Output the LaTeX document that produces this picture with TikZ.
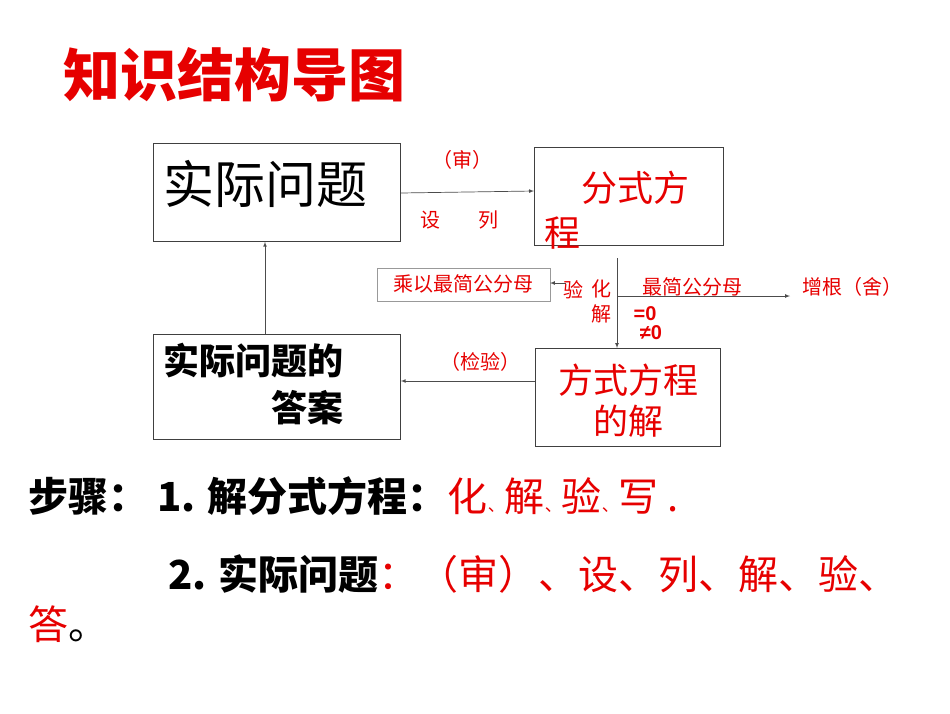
\documentclass[tikz,border=0pt]{standalone}
\usepackage{fontspec}
\setmainfont{Liberation Sans}
\newfontfamily\cjk{Noto Sans CJK SC}
\usetikzlibrary{positioning}
\definecolor{hred}{RGB}{230,0,0}
\tikzset{
  box/.style={draw=black!75, line width=0.8pt, anchor=north west, inner sep=0pt},
  lbl/.style={font=\cjk\fontsize{20}{22}\selectfont, inner sep=1pt},
  red lbl/.style={lbl, text=hred},
  conn/.style={draw=black!70, line width=0.7pt, -latex},
}
\begin{document}
\begin{tikzpicture}[x=1pt,y=-1pt]
    \useasboundingbox (0,0) rectangle (950,713);

    % title
    \node[anchor=west, text=hred, font=\cjk\bfseries\fontsize{57}{60}\selectfont] (title) at (60,75) {知识结构导图};

    % boxes
    \node[box, minimum width=247, minimum height=98] (real) at (153,143) {};
    \node[box, minimum width=189, minimum height=98] (eqn) at (534,147) {};
    \node[box, minimum width=247, minimum height=105] (answer) at (153,334) {};
    \node[box, minimum width=185, minimum height=98] (sol) at (535,348) {};
    \node[box, draw=black!40, line width=0.5pt, minimum width=173, minimum height=33] (mult) at (377,268) {};

    % box texts
    \node[anchor=west, font=\cjk\fontsize{51}{53}\selectfont] at (160,184) {实际问题};
    \node[anchor=west, text=hred, font=\cjk\fontsize{36}{38}\selectfont] at (578,188) {分式方};
    \node[anchor=west, text=hred, font=\cjk\fontsize{36}{38}\selectfont] at (541,233) {程};
    \node[anchor=west, font=\cjk\bfseries\fontsize{36}{38}\selectfont] at (160,361) {实际问题的};
    \node[anchor=west, font=\cjk\bfseries\fontsize{36}{38}\selectfont] at (268,408) {答案};
    \node[text=hred, font=\cjk\fontsize{35}{37}\selectfont] at (628,380) {方式方程};
    \node[text=hred, font=\cjk\fontsize{35}{37}\selectfont] at (628,421) {的解};
    \node[red lbl] at (463,284) {乘以最简公分母};

    % connectors
    \coordinate (split) at (617,258);
    \coordinate (fork) at (617,296);
    \coordinate (root) at (790,296);
    \coordinate (multend) at (550,283);
    \coordinate (multstart) at (566,283);
    \draw[conn] (real.east |- 0,193) -- (eqn.west |- 0,191);
    \draw[conn] (answer.north -| 265,0) -- (real.south -| 265,0);
    \draw[conn] (sol.west |- 0,381) -- (answer.east |- 0,381);
    \draw[conn] (split) -- (sol.north -| split);
    \draw[conn] (fork) -- (root);
    \draw[conn] (multstart) -- (multend);

    % connector labels
    \node[red lbl] at (462,160) {（审）};
    \node[red lbl] at (430,220) {设};
    \node[red lbl] at (488,220) {列};
    \node[red lbl] at (573,290) {验};
    \node[red lbl] at (601,289) {化};
    \node[red lbl] at (601,314) {解};
    \node[red lbl] at (692,287) {最简公分母};
    \node[red lbl] at (852,287) {增根（舍）};
    \node[red lbl, font=\bfseries\fontsize{20}{22}\selectfont] at (645,314) {=0};
    \node[red lbl, font=\bfseries\fontsize{20}{22}\selectfont] at (651,333) {≠0};
    \node[red lbl] at (480,362) {（检验）};

    % steps
    \node[anchor=west, font=\cjk\bfseries\fontsize{40}{44}\selectfont, inner sep=0pt] (step1) at (28,496)
      {步骤：\ 1. 解分式方程：\textcolor{hred}{\mdseries 化{\fontsize{17}{19}\selectfont 、}解{\fontsize{17}{19}\selectfont 、}验{\fontsize{17}{19}\selectfont 、}写 .}};
    \node[anchor=west, font=\cjk\bfseries\fontsize{40}{44}\selectfont, inner sep=0pt] (step2) at (168,574)
      {2. 实际问题\textcolor{hred}{\mdseries ：（审）、设、列、解、验、}};
    \node[anchor=west, font=\cjk\fontsize{40}{44}\selectfont, inner sep=0pt] (step3) at (28,624)
      {\textcolor{hred}{答}。};
\end{tikzpicture}
\end{document}
